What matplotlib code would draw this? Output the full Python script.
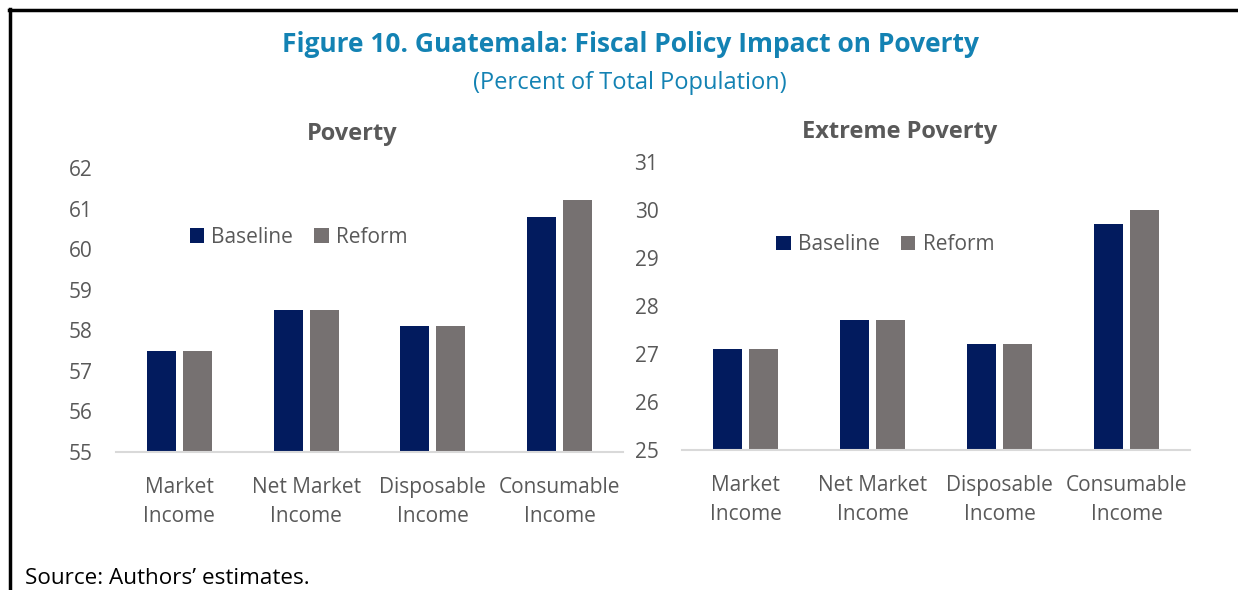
import matplotlib
matplotlib.use("Agg")
import matplotlib.pyplot as plt
from matplotlib.lines import Line2D
import numpy as np

plt.rcParams['font.family'] = ['Open Sans', 'DejaVu Sans']

categories = ["Market\nIncome", "Net Market\nIncome", "Disposable\nIncome", "Consumable\nIncome"]
series_names = ["Baseline", "Reform"]

poverty_baseline = [57.5, 58.5, 58.1, 60.8]
poverty_reform = [57.5, 58.5, 58.1, 61.2]
extreme_baseline = [27.1, 27.7, 27.2, 29.7]
extreme_reform = [27.1, 27.7, 27.2, 30.0]

poverty_ticks = [55, 56, 57, 58, 59, 60, 61, 62]
extreme_ticks = [25, 26, 27, 28, 29, 30, 31]

navy = "#021B5E"
grey = "#767171"
text_grey = "#595959"
title_blue = "#1382B3"

fig = plt.figure(figsize=(12.38, 5.90), dpi=100)

# frame lines along the top and left edges
fig.add_artist(Line2D([9 / 1238, 1], [1 - 10 / 590] * 2, color="black", lw=2.5,
                      transform=fig.transFigure))
fig.add_artist(Line2D([10 / 1238] * 2, [0, 1 - 9 / 590], color="black", lw=2.5,
                      transform=fig.transFigure))

fig.text(630 / 1238, 1 - 45 / 590, "Figure 10. Guatemala: Fiscal Policy Impact on Poverty",
         ha="center", va="center", fontsize=19, fontweight="bold", color=title_blue)
fig.text(629.5 / 1238, 1 - 83 / 590, "(Percent of Total Population)",
         ha="center", va="center", fontsize=17, color=title_blue)
fig.text(25 / 1238, 1.5 / 590, "Source: Authors\u2019 estimates.",
         ha="left", va="bottom", fontsize=16.2, color="black")


def draw_panel(rect, title, title_xy, base, reform, ticks, legend_xy):
    ax = fig.add_axes(rect)
    x = np.arange(len(categories))
    w = 0.228
    off = 0.142
    ax.bar(x - off, base, w, color=navy, label=series_names[0], zorder=2)
    ax.bar(x + off, reform, w, color=grey, label=series_names[1], zorder=2)
    ax.set_xlim(-0.5, len(categories) - 0.5)
    ax.set_ylim(ticks[0], ticks[-1])
    ax.set_yticks(ticks)
    ax.set_yticklabels([str(t) for t in ticks])
    ax.set_xticks(x)
    ax.set_xticklabels(categories, linespacing=1.5)
    for s in ["top", "right", "left"]:
        ax.spines[s].set_visible(False)
    ax.spines["bottom"].set_color("#D9D9D9")
    ax.spines["bottom"].set_linewidth(1.5)
    ax.tick_params(axis="y", length=0, pad=17, labelsize=15, labelcolor=text_grey)
    ax.tick_params(axis="x", length=0, pad=18, labelsize=15, labelcolor=text_grey)
    fig.text(title_xy[0] / 1238, 1 - title_xy[1] / 590, title, ha="center", va="center",
             fontsize=17, fontweight="bold", color=text_grey)
    ax.legend(loc="center", bbox_to_anchor=legend_xy, ncol=2, frameon=False,
              fontsize=15, handlelength=0.7, handleheight=0.7, handletextpad=0.35,
              columnspacing=1.0, labelcolor=text_grey)
    return ax


draw_panel([116 / 1238, 138 / 590, 507 / 1238, 284 / 590], "Poverty", (352, 134),
           poverty_baseline, poverty_reform, poverty_ticks, (0.36, 0.757))
draw_panel([682 / 1238, 140 / 590, 508 / 1238, 288 / 590], "Extreme Poverty", (900, 132),
           extreme_baseline, extreme_reform, extreme_ticks, (0.40, 0.712))

fig.savefig("out.png", dpi=100, facecolor="white")
